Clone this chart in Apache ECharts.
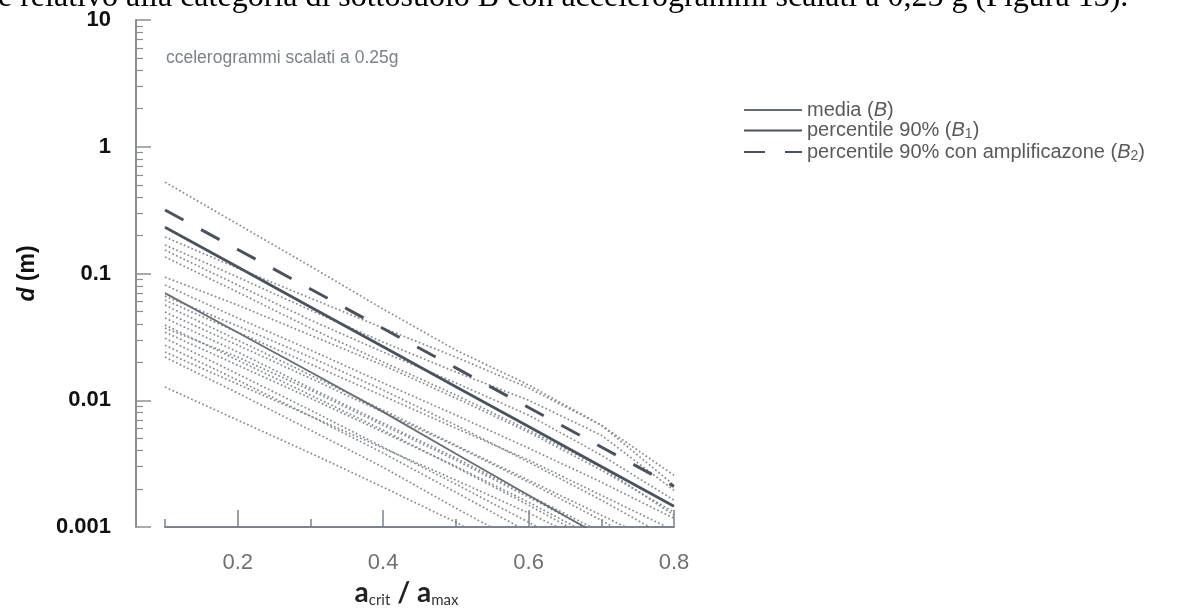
<!DOCTYPE html>
<html>
<head>
<meta charset="utf-8">
<script src="https://cdn.jsdelivr.net/npm/echarts@6/dist/echarts.min.js"></script>
<style>
  html, body { margin: 0; padding: 0; background: #ffffff; }
  #chart { width: 1190px; height: 608px; }
</style>
</head>
<body>
<div id="chart"></div>
<script>
// ---- data ----
const xValues = [0.1, 0.2, 0.3, 0.4, 0.5, 0.6, 0.7, 0.8];
const xTickLabels = ['0.2', '0.4', '0.6', '0.8'];
const xLabelValues = [0.2, 0.4, 0.6, 0.8];
const yTickLabels = ['0.001', '0.01', '0.1', '1', '10'];

// media (B)
const mediaB = [0.070, 0.0342, 0.0167, 0.0081, 0.00378, 0.00178, 0.00084, 0.00040];
// percentile 90% (B1)
const perc90B1 = [0.232, 0.1124, 0.0545, 0.0264, 0.0128, 0.0062, 0.0030, 0.00146];
// percentile 90% con amplificazone (B2)
const perc90B2 = [0.317, 0.1547, 0.0755, 0.0368, 0.0180, 0.00877, 0.00428, 0.00209];

// single accelerogram records (dotted curves)
const accelerogramCurves = [
  [0.526, 0.245, 0.114, 0.0524, 0.0249, 0.0132, 0.00636, 0.00256],
  [0.194, 0.110, 0.0639, 0.0371, 0.0219, 0.0125, 0.00636, 0.00214],
  [0.168, 0.0936, 0.0514, 0.0287, 0.0167, 0.0100, 0.0053, 0.00195],
  [0.153, 0.081, 0.0429, 0.0240, 0.0137, 0.00763, 0.00369, 0.00163],
  [0.135, 0.0713, 0.0371, 0.0200, 0.0110, 0.00581, 0.00296, 0.00124],
  [0.0936, 0.0563, 0.0326, 0.0189, 0.0104, 0.0056, 0.00281, 0.00131],
  [0.081, 0.0445, 0.0249, 0.0137, 0.00763, 0.00419, 0.00226, 0.00117],
  [0.0663, 0.0385, 0.0219, 0.01202, 0.00636, 0.00325, 0.00163, 0.00078],
  [0.0617, 0.0344, 0.0193, 0.0108, 0.00602, 0.00337, 0.00178, 0.00094],
  [0.0563, 0.0298, 0.0158, 0.00835, 0.00442, 0.00234, 0.00124, 0.00065],
  [0.0496, 0.0272, 0.0149, 0.00805, 0.00434, 0.00226, 0.00113, 0.00054],
  [0.0445, 0.0240, 0.0125, 0.0066, 0.0035, 0.00178, 0.00091, 0.00045],
  [0.0392, 0.0207, 0.0110, 0.00581, 0.00296, 0.00149, 0.00072, 0.00034],
  [0.0371, 0.0219, 0.01202, 0.00636, 0.00337, 0.00172, 0.00086, 0.00041],
  [0.0344, 0.0189, 0.0104, 0.0056, 0.00301, 0.00157, 0.00078, 0.00039],
  [0.0309, 0.0161, 0.00835, 0.00426, 0.00218, 0.00109, 0.00054, 0.00026],
  [0.0272, 0.0144, 0.0075, 0.00383, 0.00188, 0.00091, 0.00043, 0.00021],
  [0.0240, 0.0134, 0.0075, 0.00419, 0.00234, 0.00129, 0.00068, 0.00034],
  [0.0219, 0.0114, 0.00581, 0.00296, 0.00141, 0.00069, 0.00031, 0.00015],
  [0.0127, 0.00697, 0.00383, 0.00206, 0.00109, 0.00054, 0.00026, 0.00012]
];

const legendNames = ['media (B)', 'percentile 90% (B1)', 'percentile 90% con amplificazone (B2)'];
const legendRich = {
  'media (B)': '{t|media (}{i|B}{t|)}',
  'percentile 90% (B1)': '{t|percentile 90% (}{i|B}{s|1}{t|)}',
  'percentile 90% con amplificazone (B2)': '{t|percentile 90% con amplificazone (}{i|B}{s|2}{t|)}'
};
const headerText = 'e relativo alla categoria di sottosuolo B con accelerogrammi scalati a 0,25 g (Figura 13).';
const noteText = 'ccelerogrammi scalati a 0.25g';

// ---- build ----
const pairs = arr => xValues.map((x, i) => [x, arr[i]]);

const minorTickPositions = [];
[0.001, 0.01, 0.1, 1].forEach(dec => {
  for (let k = 2; k <= 9; k++) minorTickPositions.push(Math.log10(dec * k));
});

const series = [];
accelerogramCurves.forEach((c, idx) => {
  series.push({
    name: 'rec' + idx,
    type: 'line',
    data: pairs(c),
    showSymbol: false,
    symbol: 'none',
    silent: true,
    z: 1,
    clip: true,
    lineStyle: { color: '#838a92', width: 1.7, type: [1.7, 2.4] }
  });
});
series.push({
  name: legendNames[0], type: 'line', data: pairs(mediaB), symbol: 'none', showSymbol: false,
  z: 3, clip: true, itemStyle: { color: '#656d75', opacity: 0 },
  lineStyle: { color: '#656d75', width: 1.8 }
});
series.push({
  name: legendNames[1], type: 'line', data: pairs(perc90B1), symbol: 'none', showSymbol: false,
  z: 3, clip: true, itemStyle: { color: '#4a535d', opacity: 0 },
  lineStyle: { color: '#4a535d', width: 2.8 }
});
series.push({
  name: legendNames[2], type: 'line', data: pairs(perc90B2), symbol: 'none', showSymbol: false,
  z: 3, clip: true, itemStyle: { color: '#4a535d', opacity: 0 },
  lineStyle: { color: '#4a535d', width: 3, type: [21, 20], cap: 'butt' }
});

const chart = echarts.init(document.getElementById('chart'), null, { renderer: 'canvas' });
chart.setOption({
  animation: false,
  backgroundColor: '#ffffff',
  grid: { left: 165, right: 516, top: 20, bottom: 81, containLabel: false, outerBoundsMode: 'none' },
  graphic: [
    { type: 'text', left: -2, top: -18, silent: true,
      style: { text: headerText, font: '32px "Liberation Serif"', fill: '#000' } },
    { type: 'text', left: 166, top: 49, silent: true,
      style: { text: noteText, font: '17.5px "Liberation Sans"', fill: '#7b828a' } }
  ],
  legend: {
    data: legendNames,
    orient: 'vertical',
    left: 738,
    top: 95,
    itemWidth: 58,
    itemHeight: 10,
    itemGap: 0.5,
    itemTextGap: 11,
    selectedMode: false,
    formatter: name => legendRich[name],
    textStyle: {
      color: '#555',
      fontSize: 20,
      fontFamily: 'Liberation Sans',
      rich: {
        t: { fontSize: 20, color: '#5a5a5a', fontFamily: 'Liberation Sans', lineHeight: 22 },
        i: { fontSize: 20, color: '#5a5a5a', fontStyle: 'italic', fontFamily: 'Liberation Sans', lineHeight: 22 },
        s: { fontSize: 14, color: '#5a5a5a', fontFamily: 'Liberation Sans', lineHeight: 12, verticalAlign: 'bottom' }
      }
    }
  },
  xAxis: [
    {
      type: 'value', min: 0.1, max: 0.8, interval: 0.1,
      axisLine: { show: true, onZero: false, lineStyle: { color: '#7c838b', width: 2 } },
      axisTick: { show: true, inside: true, length: 8, lineStyle: { color: '#7c838b', width: 1.5 } },
      splitLine: { show: false },
      axisLabel: {
        customValues: xLabelValues,
        formatter: v => xTickLabels[xLabelValues.findIndex(t => Math.abs(t - v) < 1e-6)] || '',
        color: '#707070', fontSize: 22, fontFamily: 'Liberation Sans', margin: 25
      },
      name: '{a|a}{s|crit}{a| / a}{s|max}',
      nameLocation: 'middle',
      nameGap: 46,
      nameTextStyle: {
        padding: [0, 26, 0, 0],
        rich: {
          a: { fontSize: 28, fontWeight: 'bold', color: '#222', fontFamily: 'Lato', lineHeight: 30 },
          s: { fontSize: 15, color: '#333', fontFamily: 'Lato', lineHeight: 12, verticalAlign: 'bottom' }
        }
      }
    },
    {
      type: 'value', min: 0.1, max: 0.8, position: 'bottom',
      axisLine: { show: false, onZero: false },
      axisTick: { show: true, inside: true, length: 17, customValues: [0.2, 0.4, 0.6, 0.8],
        lineStyle: { color: '#7c838b', width: 1.5 } },
      axisLabel: { show: false },
      splitLine: { show: false }
    }
  ],
  yAxis: [
    {
      type: 'log', logBase: 10, min: 0.001, max: 10, offset: 29,
      axisLine: { show: true, lineStyle: { color: '#8a8f94', width: 2 } },
      axisTick: { show: true, inside: true, length: 15, lineStyle: { color: '#8a8f94', width: 1.5 } },
      splitLine: { show: false },
      minorTick: { show: false },
      axisLabel: {
        formatter: v => yTickLabels[Math.round(Math.log10(v)) + 3],
        color: '#111', fontSize: 22, fontWeight: 'bold', fontFamily: 'Liberation Sans', margin: 25
      },
      name: '{i|d} (m)',
      nameLocation: 'middle',
      nameGap: 97,
      nameTextStyle: {
        rich: {
          i: { fontSize: 23, fontStyle: 'italic', fontWeight: 'bold', color: '#111', fontFamily: 'Liberation Sans' }
        },
        fontSize: 23, fontWeight: 'bold', color: '#111', fontFamily: 'Liberation Sans'
      }
    },
    {
      type: 'value', min: -3, max: 1, offset: 29, position: 'left',
      axisLine: { show: false },
      axisTick: { show: true, inside: true, length: 7, customValues: minorTickPositions,
        lineStyle: { color: '#8a8f94', width: 1.2 } },
      axisLabel: { show: false },
      splitLine: { show: false }
    }
  ],
  series: series
});
</script>
</body>
</html>
